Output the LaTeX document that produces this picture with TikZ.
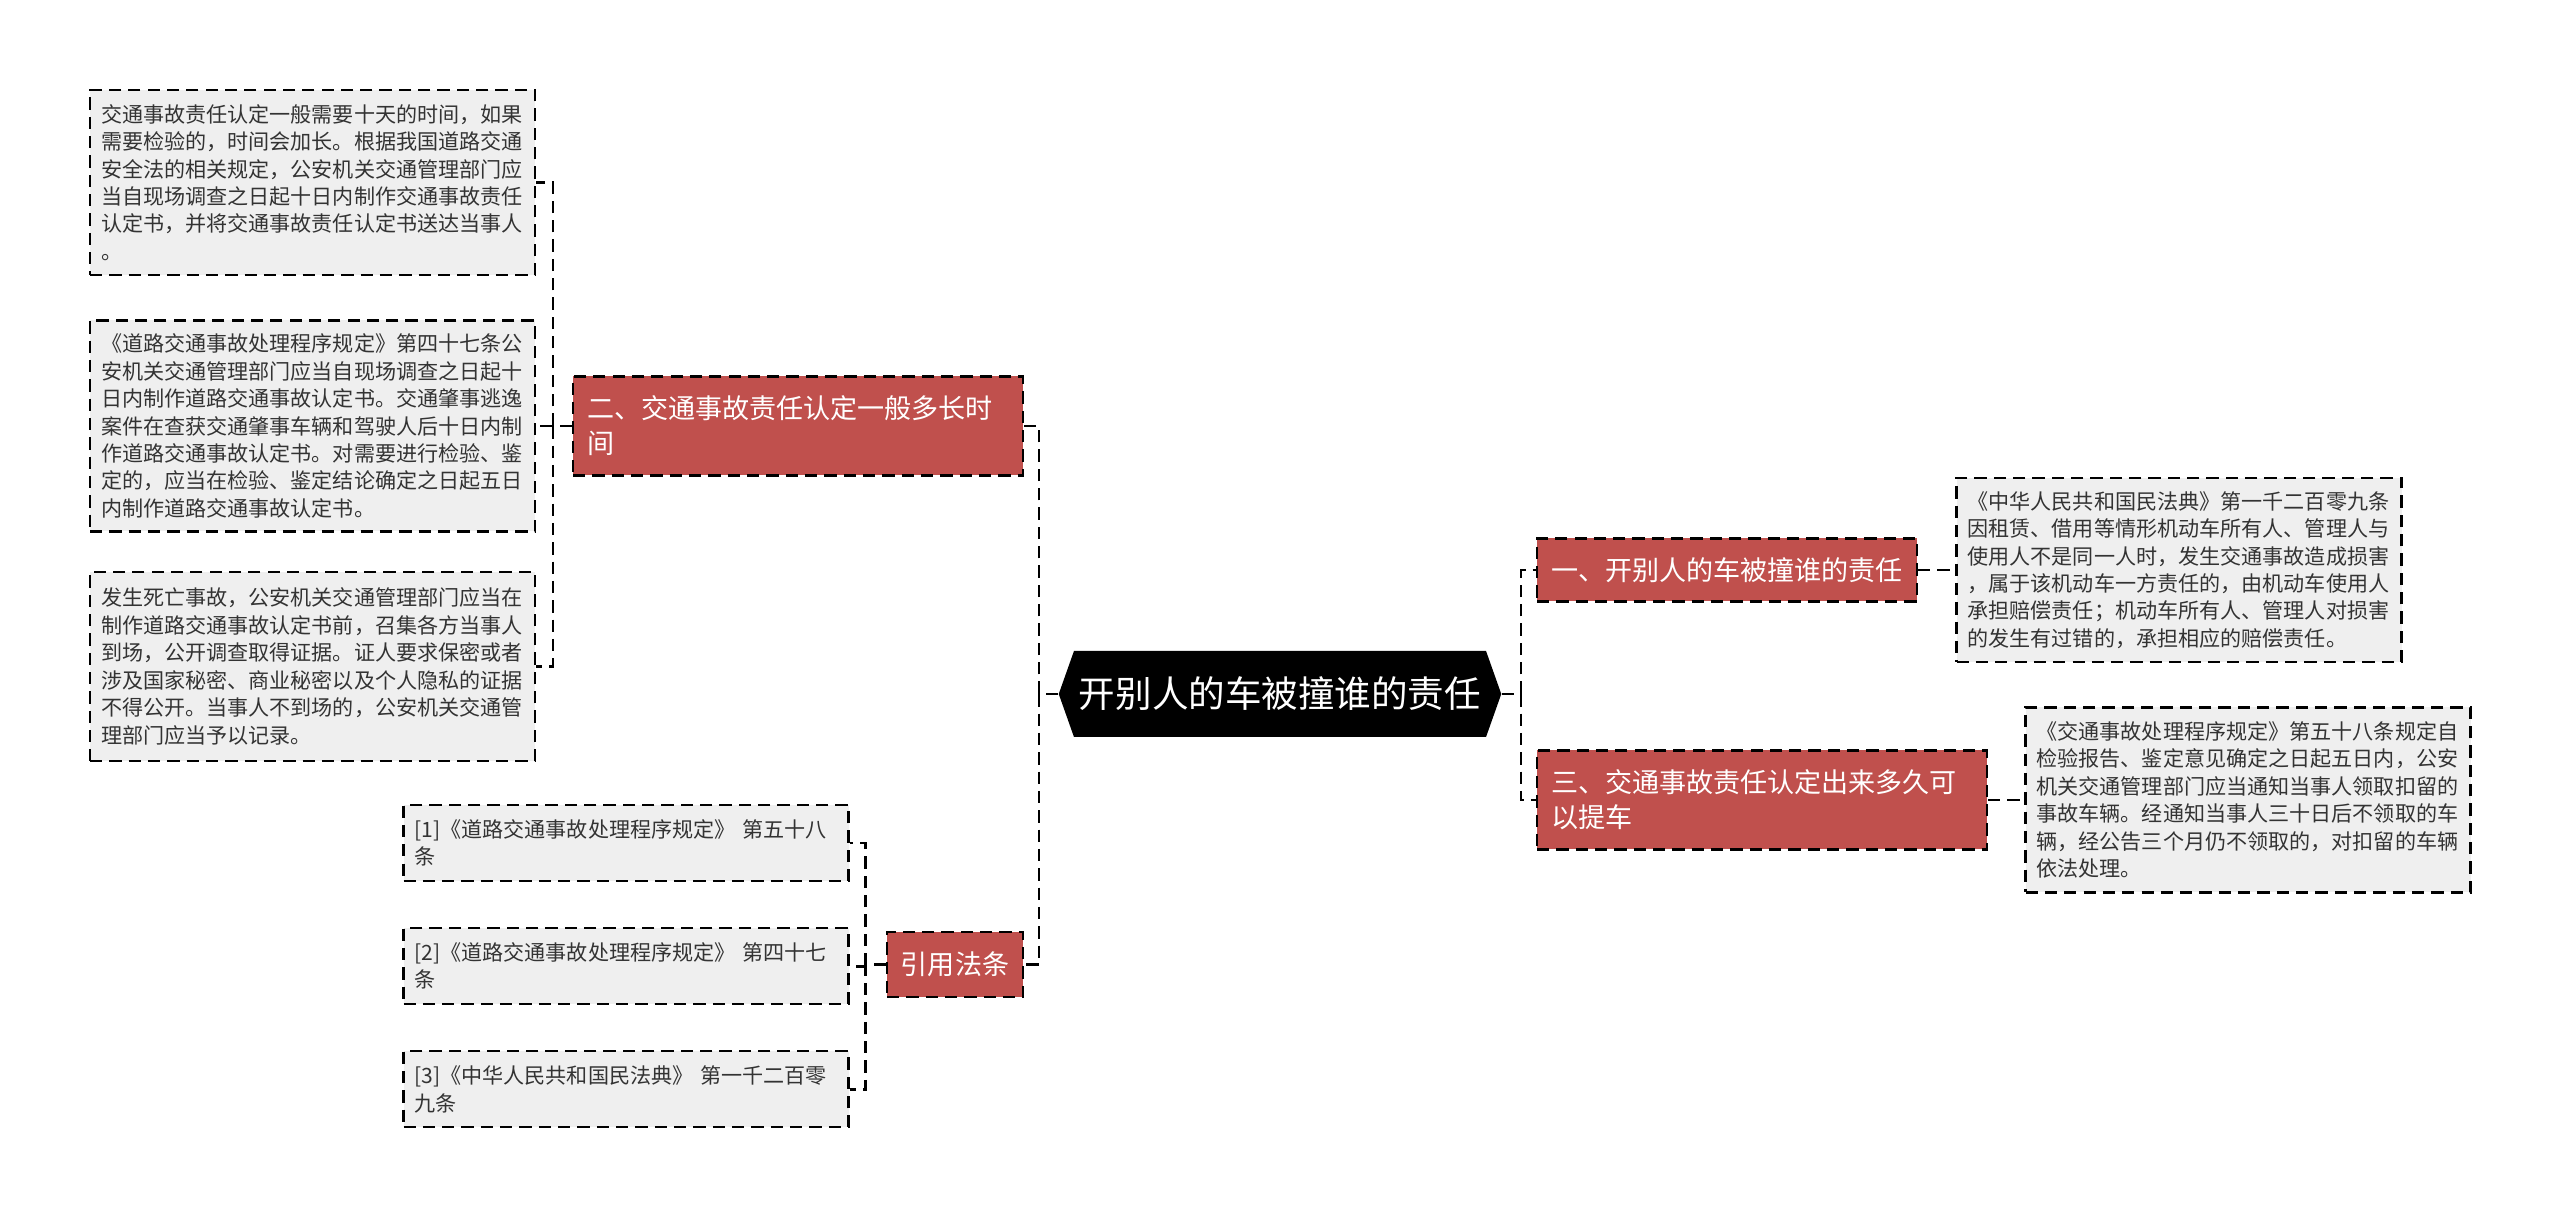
\documentclass[tikz,border=0pt]{standalone}
\usepackage{fontspec}
\setmainfont{Noto Sans CJK SC}
\usepackage{tikz}
\usetikzlibrary{positioning,shapes.symbols}

\definecolor{topicred}{RGB}{192,80,77}
\definecolor{leafgray}{RGB}{239,239,239}
\definecolor{leaftext}{RGB}{51,51,51}

\begin{document}
\begin{tikzpicture}[
			root/.style={signal, signal to=west and east, signal pointer angle=141, fill=black, text=white,
				font=\fontsize{10.4}{12}\selectfont, minimum height=0.86cm, inner xsep=0.05cm},
			topic/.style={draw=black, dash pattern=on 3.5pt off 2pt, line width=0.6pt, fill=topicred, text=white,
				font=\fontsize{7.7}{10}\selectfont, align=left, inner xsep=0.14cm, inner ysep=0pt},
			leaf/.style={draw=black, dash pattern=on 3.5pt off 2pt, line width=0.6pt, fill=leafgray, text=leaftext,
				font=\fontsize{6}{7.8}\selectfont, align=left, text width=4.23cm, inner xsep=0.11cm, inner ysep=0pt},
			link/.style={draw=black, dash pattern=on 3.5pt off 2pt, line width=0.8pt}]
			
			\useasboundingbox[fill=white] (0,0) rectangle (25.6,-12.13);
			
			% centre
			\node[root] (root) at (12.80,-6.94) {开别人的车被撞谁的责任};
			
			% right branches
			\node[topic, text width=3.52cm, minimum height=0.63cm] (one) at (17.27,-5.70) {一、开别人的车被撞谁的责任};
			\node[topic, text width=4.22cm, minimum height=0.99cm] (three) at (17.62,-8.00) {三、交通事故责任认定出来多久可\\以提车};
			
			\node[leaf, minimum height=1.84cm] (civil) at (21.79,-5.70) {《中华人民共和国民法典》第一千二百零九条\\因租赁、借用等情形机动车所有人、管理人与\\使用人不是同一人时，发生交通事故造成损害\\，属于该机动车一方责任的，由机动车使用人\\承担赔偿责任；机动车所有人、管理人对损害\\的发生有过错的，承担相应的赔偿责任。};
			\node[leaf, minimum height=1.85cm] (pickup) at (22.48,-8.00) {《交通事故处理程序规定》第五十八条规定自\\检验报告、鉴定意见确定之日起五日内，公安\\机关交通管理部门应当通知当事人领取扣留的\\事故车辆。经通知当事人三十日后不领取的车\\辆，经公告三个月仍不领取的，对扣留的车辆\\依法处理。};
			
			% left branches
			\node[topic, text width=4.22cm, minimum height=0.99cm] (two) at (7.98,-4.26) {二、交通事故责任认定一般多长时\\间};
			\node[topic, minimum height=0.65cm] (refs) at (9.55,-9.645) {引用法条};
			
			\node[leaf, minimum height=1.85cm] (tendays) at (3.125,-1.825) {交通事故责任认定一般需要十天的时间，如果\\需要检验的，时间会加长。根据我国道路交通\\安全法的相关规定，公安机关交通管理部门应\\当自现场调查之日起十日内制作交通事故责任\\认定书，并将交通事故责任认定书送达当事人\\。};
			\node[leaf, minimum height=2.11cm] (art47) at (3.125,-4.26) {《道路交通事故处理程序规定》第四十七条公\\安机关交通管理部门应当自现场调查之日起十\\日内制作道路交通事故认定书。交通肇事逃逸\\案件在查获交通肇事车辆和驾驶人后十日内制\\作道路交通事故认定书。对需要进行检验、鉴\\定的，应当在检验、鉴定结论确定之日起五日\\内制作道路交通事故认定书。};
			\node[leaf, minimum height=1.89cm] (death) at (3.125,-6.665) {发生死亡事故，公安机关交通管理部门应当在\\制作道路交通事故认定书前，召集各方当事人\\到场，公开调查取得证据。证人要求保密或者\\涉及国家秘密、商业秘密以及个人隐私的证据\\不得公开。当事人不到场的，公安机关交通管\\理部门应当予以记录。};
			
			\node[leaf, minimum height=0.76cm] (ref1) at (6.26,-8.43) {[1]《道路交通事故处理程序规定》 第五十八\\条};
			\node[leaf, minimum height=0.76cm, below=0.45cm of ref1] (ref2) {[2]《道路交通事故处理程序规定》 第四十七\\条};
			\node[leaf, minimum height=0.76cm, below=0.45cm of ref2] (ref3) {[3]《中华人民共和国民法典》 第一千二百零\\九条};
			
			% connectors
			\draw[link] (root.east) -- ++(0.19,0) |- (one.west);
			\draw[link] (root.east) -- ++(0.19,0) |- (three.west);
			\draw[link] (root.west) -- ++(-0.19,0) |- (two.east);
			\draw[link] (root.west) -- ++(-0.19,0) |- (refs.east);
			
			\draw[link] (one.east) -- (civil.west);
			\draw[link] (three.east) -- (pickup.west);
			
			\draw[link] (two.west) -- ++(-0.19,0) |- (tendays.east);
			\draw[link] (two.west) -- ++(-0.19,0) |- (art47.east);
			\draw[link] (two.west) -- ++(-0.19,0) |- (death.east);
			
			\draw[link] (refs.west) -- ++(-0.20,0) |- (ref1.east);
			\draw[link] (refs.west) -- ++(-0.20,0) |- (ref2.east);
			\draw[link] (refs.west) -- ++(-0.20,0) |- (ref3.east);
			
		\end{tikzpicture}
\end{document}
